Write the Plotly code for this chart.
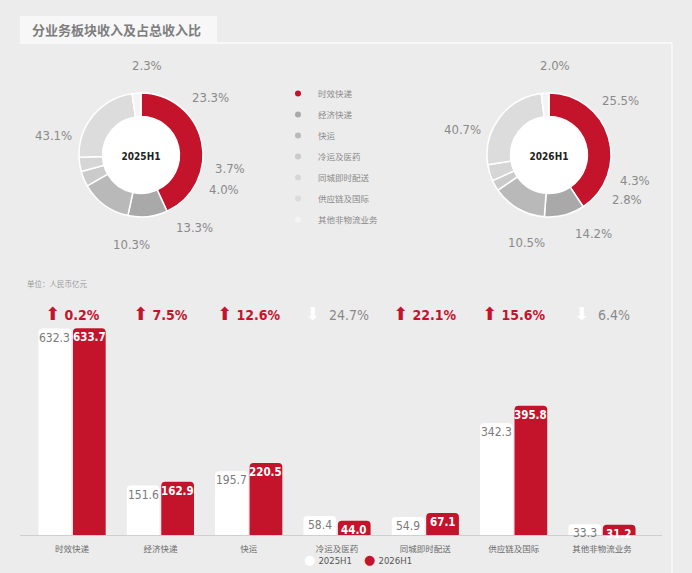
import math
import plotly.graph_objects as go

W, H = 692, 573

# ---------------- data ----------------
categories = ["时效快递", "经济快递", "快运", "冷运及医药", "同城即时配送", "供应链及国际", "其他非物流业务"]
rev_2025h1 = [632.3, 151.6, 195.7, 58.4, 54.9, 342.3, 33.3]
rev_2026h1 = [633.7, 162.9, 220.5, 44.0, 67.1, 395.8, 31.2]
share_2025h1 = [43.1, 10.3, 13.3, 4.0, 3.7, 23.3, 2.3]
share_2026h1 = [40.7, 10.5, 14.2, 2.8, 4.3, 25.5, 2.0]
growth_pct = [0.2, 7.5, 12.6, -24.7, 22.1, 15.6, -6.4]
period_labels = ["2025H1", "2026H1"]

title_text = "分业务板块收入及占总收入比"
unit_text = "单位：人民币亿元"

# ---------------- style ----------------
BG = "#ececec"
RED = "#c4142c"
slice_colors = [RED, "#a9a9a9", "#b9b9b9", "#cbcbcb", "#d6d6d6", "#dcdcdc", "#f4f4f4"]
NUM_FONT = "DejaVu Sans, sans-serif"
CJK_FONT = "Noto Sans CJK SC, sans-serif"


def nf(t):
    """condensed number text"""
    return "<span style='font-stretch:condensed'>%s</span>" % t


def px(x):
    return x / W


def py(y):
    return 1 - y / H


fig = go.Figure()

# donut geometry (pixels)
donuts = [
    dict(cx=141, cy=155, R=62, shares=share_2025h1, label=period_labels[0]),
    dict(cx=549, cy=155, R=62, shares=share_2026h1, label=period_labels[1]),
]
HOLE = 0.62
annotations = []

for d in donuts:
    cx, cy, R = d["cx"], d["cy"], d["R"]
    r_in = R * HOLE
    # white inner disc
    fig.add_trace(go.Pie(
        values=[1], labels=["hole"], sort=False,
        domain=dict(x=[px(cx - r_in - 1), px(cx + r_in + 1)], y=[py(cy + r_in + 1), py(cy - r_in - 1)]),
        marker=dict(colors=["#ffffff"], line=dict(width=0)),
        textinfo="none", hoverinfo="skip", showlegend=False,
    ))
    fig.add_trace(go.Pie(
        values=d["shares"], labels=categories, sort=False, direction="clockwise", rotation=0,
        hole=HOLE,
        domain=dict(x=[px(cx - R), px(cx + R)], y=[py(cy + R), py(cy - R)]),
        marker=dict(colors=slice_colors, line=dict(color="#ffffff", width=1.5)),
        textinfo="none", hoverinfo="label+percent", showlegend=False,
        title=dict(text="<b>%s</b>" % nf(d["label"]), position="middle center",
                   font=dict(family=NUM_FONT, size=10, color="#222222")),
    ))
    # percentage labels placed along each slice's mid-angle (counterclockwise from 12 o'clock)
    total = sum(d["shares"])
    cum = 0.0
    r_lab = 90
    for s in d["shares"]:
        mid = (cum + s / 2) / total
        ang = math.radians(90 + 360 * mid)
        lx = cx + r_lab * math.cos(ang)
        ly = cy - r_lab * math.sin(ang)
        annotations.append(dict(
            x=px(lx), y=py(ly), xref="paper", yref="paper", showarrow=False,
            text=nf("%.1f%%" % s), font=dict(family=NUM_FONT, size=13, color="#8a8a8a"),
            xanchor="center", yanchor="middle",
        ))
        cum += s

# ---------------- bars ----------------
fig.add_trace(go.Bar(
    x=categories, y=rev_2025h1, name=period_labels[0],
    marker=dict(color="#ffffff", cornerradius=4, line=dict(width=0)),
    showlegend=False,
))
fig.add_trace(go.Bar(
    x=categories, y=rev_2026h1, name=period_labels[1],
    marker=dict(color=RED, cornerradius=4, line=dict(width=0)),
    showlegend=False,
))

# value labels at the top of each bar (data coordinates, shifted onto each bar of the pair)
BAR_SHIFT = 17.2
for cat, v in zip(categories, rev_2025h1):
    annotations.append(dict(
        x=cat, y=v, xref="x", yref="y", xshift=-BAR_SHIFT, yshift=-9, showarrow=False, borderpad=0,
        text=nf("%.1f" % v), font=dict(family=NUM_FONT, size=12, color="#7a7a7a"),
        xanchor="center", yanchor="middle",
    ))
for cat, v in zip(categories, rev_2026h1):
    annotations.append(dict(
        x=cat, y=v, xref="x", yref="y", xshift=BAR_SHIFT, yshift=-9, showarrow=False, borderpad=0,
        text="<b>%s</b>" % nf("%.1f" % v), font=dict(family=NUM_FONT, size=11.5, color="#ffffff"),
        xanchor="center", yanchor="middle",
    ))

# pie legend entries (circles)
for cat, col in zip(categories, slice_colors):
    fig.add_trace(go.Scatter(
        x=[None], y=[None], mode="markers", name=cat, legendgroup=cat,
        marker=dict(symbol="circle", size=6, color=col),
    ))

# growth annotations
for cat, g in zip(categories, growth_pct):
    if g >= 0:
        txt = "<span style='font-size:18px'>⬆</span> <b>%s</b>" % nf("%.1f%%" % g)
        col = RED
    else:
        txt = "<span style='color:#ffffff;font-size:18px'>⬇</span>  %s" % nf("%.1f%%" % abs(g))
        col = "#8a8a8a"
    annotations.append(dict(
        x=cat, xref="x", y=py(313), yref="paper", showarrow=False, text=txt,
        font=dict(family=NUM_FONT, size=14, color=col), xanchor="center", yanchor="middle",
    ))

# bar legend (circle + label)
annotations.append(dict(
    x=px(358), y=py(559), xref="paper", yref="paper", showarrow=False,
    text=("<span style='color:#ffffff;font-size:13px'>●</span> %s"
          "    <span style='color:%s;font-size:13px'>●</span> %s") % (
        nf(period_labels[0]), RED, nf(period_labels[1])),
    font=dict(family=NUM_FONT, size=9.5, color="#555555"), xanchor="center", yanchor="middle",
))

annotations.append(dict(
    x=px(30), y=py(30), xref="paper", yref="paper", showarrow=False, text="<b>" + title_text + "</b>",
    font=dict(family=CJK_FONT, size=13, color="#7e7e7e"), xanchor="left", yanchor="middle",
))
annotations.append(dict(
    x=px(25), y=py(284), xref="paper", yref="paper", showarrow=False, text=unit_text,
    font=dict(family=CJK_FONT, size=7.5, color="#9a9a9a"), xanchor="left", yanchor="middle",
))

shapes = [
    dict(type="rect", xref="paper", yref="paper", x0=px(20), x1=px(217), y0=py(43), y1=py(16),
         fillcolor="#f7f7f7", line=dict(width=0), layer="below"),
    dict(type="line", xref="paper", yref="paper", x0=px(20), x1=px(672), y0=py(43), y1=py(43),
         line=dict(color="#f8f8f8", width=2), layer="below"),
    dict(type="line", xref="paper", yref="paper", x0=px(672), x1=px(672), y0=py(43), y1=0,
         line=dict(color="#f6f6f6", width=2), layer="below"),
]

fig.update_layout(
    width=W, height=H, margin=dict(l=0, r=0, t=0, b=0),
    paper_bgcolor=BG, plot_bgcolor="rgba(0,0,0,0)",
    barmode="group", bargap=0.22, bargroupgap=0.05,
    xaxis=dict(domain=[px(20), px(662)], range=[-0.59, 6.68], showgrid=False, zeroline=False,
               showline=True, linecolor="#cfcfcf", linewidth=1, ticks="", ticklabelstandoff=6,
               tickfont=dict(family=CJK_FONT, size=8.5, color="#6a6a6a")),
    yaxis=dict(domain=[py(535), py(300)], range=[0, 720], visible=False, showgrid=False),
    legend=dict(x=px(278), y=py(79), xanchor="left", yanchor="top", orientation="v",
                font=dict(family=CJK_FONT, size=8.5, color="#8a8a8a"), tracegroupgap=2,
                bgcolor="rgba(0,0,0,0)", itemclick=False),
    annotations=annotations, shapes=shapes, showlegend=True,
)

fig.write_html("out.html", config={"displayModeBar": False},
               post_script="document.body.style.margin='0';document.body.style.background='%s';" % BG)
